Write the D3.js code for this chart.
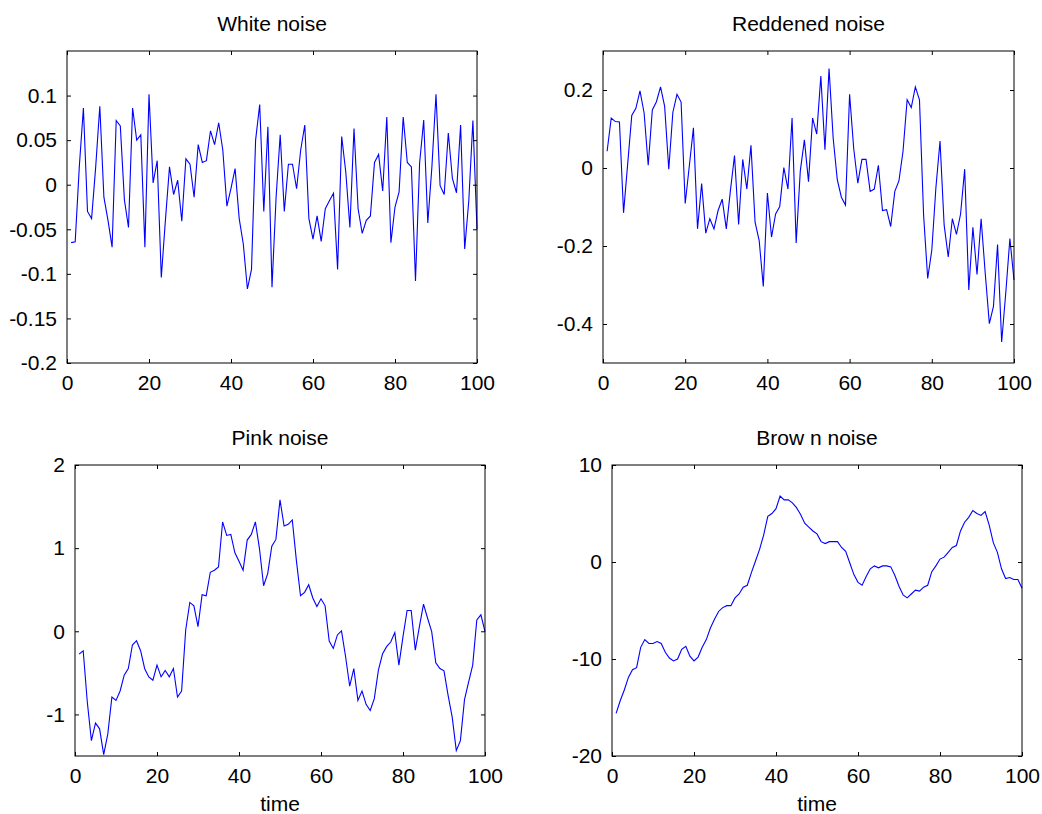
<!DOCTYPE html>
<html><head><meta charset="utf-8">
<script src="https://cdn.jsdelivr.net/npm/d3@7"></script>
<style>
body{margin:0;background:#fff}
svg{display:block}
text{font-family:Arial,"Liberation Sans",sans-serif;fill:#000}
</style>
</head><body>
<svg id="c" width="1042" height="814"></svg>
<script>
// ---- data ----
const timeSteps = d3.range(1, 101);

const whiteNoise = [
 -0.065,-0.064,0.02,0.086,-0.030,-0.038,0.02,0.088,-0.014,-0.04,
 -0.070,0.072,0.066,-0.017,-0.048,0.086,0.050,0.056,-0.070,0.1015,
 0.002,0.027,-0.104,-0.04,0.020,-0.011,0.005,-0.041,0.029,0.023,
 -0.014,0.045,0.025,0.027,0.0605,0.045,0.0695,0.039,-0.024,-0.004,
 0.018,-0.038,-0.0665,-0.117,-0.095,0.050,0.090,-0.030,0.065,-0.115,
 -0.014,0.056,-0.030,0.023,0.023,-0.0045,0.039,0.067,-0.038,-0.061,
 -0.035,-0.0635,-0.027,-0.018,-0.0095,-0.095,0.054,0.014,-0.048,0.063,
 -0.027,-0.0545,-0.040,-0.035,0.025,0.034,-0.007,0.076,-0.065,-0.025,
 -0.008,0.076,0.025,0.020,-0.108,0.024,0.0725,-0.043,0.02,0.1015,
 -0.001,-0.011,0.058,0.007,-0.009,0.067,-0.072,-0.018,0.072,-0.050
];

const reddenedNoise = [
 0.043,0.128,0.119,0.118,-0.115,0.01,0.135,0.153,0.198,0.141,
 0.007,0.149,0.170,0.208,0.158,-0.003,0.143,0.189,0.169,-0.091,
 0.005,0.103,-0.156,-0.04,-0.167,-0.13,-0.156,-0.109,-0.08,-0.156,
 -0.058,0.032,-0.145,0.022,-0.054,0.058,-0.139,-0.186,-0.304,-0.064,
 -0.177,-0.118,-0.099,0.001,-0.054,0.128,-0.192,-0.008,0.072,-0.035,
 0.128,0.087,0.236,0.047,0.255,0.077,-0.03,-0.075,-0.095,0.189,
 0.05,-0.039,0.022,0.022,-0.06,-0.054,0.007,-0.109,-0.107,-0.150,
 -0.06,-0.033,0.043,0.175,0.155,0.208,0.175,-0.12,-0.283,-0.211,
 -0.05,0.069,-0.146,-0.228,-0.130,-0.170,-0.118,-0.003,-0.313,-0.152,
 -0.273,-0.130,-0.27,-0.399,-0.355,-0.196,-0.446,-0.32,-0.181,-0.287
];

const pinkNoise = [
 -0.274,-0.234,-0.85,-1.315,-1.105,-1.173,-1.484,-1.234,-0.790,-0.831,
 -0.718,-0.528,-0.448,-0.165,-0.113,-0.234,-0.45,-0.55,-0.589,-0.407,
 -0.548,-0.472,-0.548,-0.448,-0.790,-0.718,0.016,0.347,0.306,0.056,
 0.44,0.427,0.71,0.734,0.774,1.315,1.153,1.165,0.944,0.843,
 0.734,1.097,1.165,1.315,0.992,0.548,0.694,1.024,1.105,1.581,
 1.266,1.286,1.339,0.85,0.427,0.468,0.56,0.40,0.298,0.391,
 0.306,-0.117,-0.206,-0.044,0.004,-0.306,-0.661,-0.448,-0.831,-0.718,
 -0.879,-0.952,-0.810,-0.468,-0.274,-0.185,-0.129,-0.016,-0.407,-0.065,
 0.25,0.25,-0.226,0.056,0.327,0.157,-0.004,-0.379,-0.448,-0.476,
 -0.770,-1.032,-1.435,-1.315,-0.823,-0.61,-0.407,0.137,0.198,-0.004
];

const brownNoise = [
 -15.6,-14.3,-13.2,-11.9,-11.1,-10.9,-8.8,-8.0,-8.4,-8.4,
 -8.2,-8.4,-9.3,-9.9,-10.2,-10.0,-9.0,-8.7,-9.7,-10.2,
 -9.8,-8.8,-8.0,-6.8,-5.9,-5.1,-4.7,-4.5,-4.5,-3.7,
 -3.3,-2.6,-2.4,-1.1,0.1,1.3,2.8,4.7,5.0,5.5,
 6.8,6.4,6.4,6.1,5.6,4.9,4.0,3.6,3.2,2.9,
 2.1,1.9,2.1,2.1,2.1,1.5,1.1,-0.1,-1.3,-2.1,
 -2.4,-1.5,-0.7,-0.4,-0.6,-0.4,-0.4,-0.5,-1.4,-2.5,
 -3.4,-3.7,-3.3,-2.9,-3.0,-2.6,-2.4,-1.0,-0.4,0.3,
 0.5,1.0,1.5,1.7,3.2,4.1,4.6,5.3,5.0,4.8,
 5.2,3.8,2.0,1.0,-0.7,-1.7,-1.6,-1.8,-1.8,-2.7
];

const xTicks = [0, 20, 40, 60, 80, 100];
const whiteTicks = [-0.2, -0.15, -0.1, -0.05, 0, 0.05, 0.1];
const reddenedTicks = [-0.4, -0.2, 0, 0.2];
const pinkTicks = [-1, 0, 1, 2];
const brownTicks = [-20, -10, 0, 10];
const whiteDomain = [-0.2, 0.15];
const reddenedDomain = [-0.5, 0.3];
const pinkDomain = [-1.5, 2];
const brownDomain = [-20, 10];
const titles = ["White noise", "Reddened noise", "Pink noise", "Brow n noise"];
const xLabel = "time";

// ---- layout ----
const panels = [
  {title: titles[0], values: whiteNoise,    yDomain: whiteDomain,    yTicks: whiteTicks,    box: [67, 477, 51, 363],   xlab: false},
  {title: titles[1], values: reddenedNoise, yDomain: reddenedDomain, yTicks: reddenedTicks, box: [603, 1014, 51, 363], xlab: false},
  {title: titles[2], values: pinkNoise,     yDomain: pinkDomain,     yTicks: pinkTicks,     box: [75, 485, 465, 756],  xlab: true},
  {title: titles[3], values: brownNoise,    yDomain: brownDomain,    yTicks: brownTicks,    box: [612, 1022, 465, 756], xlab: true}
];

const svg = d3.select("#c");
const FS = 21;
const TICK = 4;
const fmt = v => String(v).replace("\u2212", "-");

panels.forEach(p => {
  const [x0, x1, y0, y1] = p.box;
  const x = d3.scaleLinear().domain([0, 100]).range([x0, x1]);
  const y = d3.scaleLinear().domain(p.yDomain).range([y1, y0]);
  const g = svg.append("g");

  // data line
  const line = d3.line().x((d, i) => x(timeSteps[i])).y(d => y(d));
  g.append("path").datum(p.values)
    .attr("d", line)
    .attr("fill", "none")
    .attr("stroke", "#0000ff")
    .attr("stroke-width", 1.1)
    .attr("stroke-linejoin", "miter");

  // axes with inward ticks
  const styleAxis = sel => {
    sel.select(".domain").remove();
    sel.selectAll(".tick line").attr("stroke", "#000");
    sel.selectAll("text").attr("font-size", FS).attr("font-family", "Arial, 'Liberation Sans', sans-serif").attr("fill", "#000");
  };
  g.append("g").attr("transform", `translate(0,${y1})`)
    .call(d3.axisBottom(x).tickValues(xTicks).tickSizeInner(-TICK).tickSizeOuter(0).tickPadding(12).tickFormat(fmt))
    .call(styleAxis);
  g.append("g").attr("transform", `translate(0,${y0})`)
    .call(d3.axisTop(x).tickValues(xTicks).tickSizeInner(-TICK).tickSizeOuter(0).tickFormat(""))
    .call(styleAxis);
  g.append("g").attr("transform", `translate(${x0},0)`)
    .call(d3.axisLeft(y).tickValues(p.yTicks).tickSizeInner(-TICK).tickSizeOuter(0).tickPadding(10).tickFormat(fmt))
    .call(styleAxis);
  g.append("g").attr("transform", `translate(${x1},0)`)
    .call(d3.axisRight(y).tickValues(p.yTicks).tickSizeInner(-TICK).tickSizeOuter(0).tickFormat(""))
    .call(styleAxis);

  // box
  g.append("rect").attr("x", x0).attr("y", y0).attr("width", x1 - x0).attr("height", y1 - y0)
    .attr("fill", "none").attr("stroke", "#000").attr("stroke-width", 1);

  // title
  g.append("text").attr("x", (x0 + x1) / 2).attr("y", y0 - 20)
    .attr("text-anchor", "middle").attr("font-size", FS).text(p.title);

  if (p.xlab) {
    g.append("text").attr("x", (x0 + x1) / 2).attr("y", y1 + 55)
      .attr("text-anchor", "middle").attr("font-size", FS).text(xLabel);
  }
});
</script>
</body></html>
